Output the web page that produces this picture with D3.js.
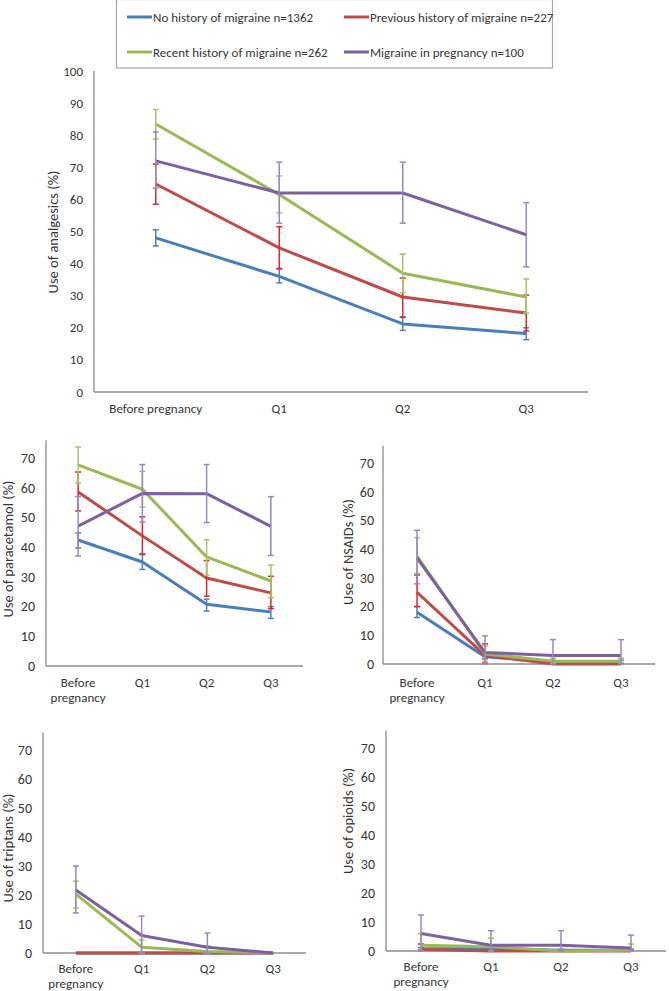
<!DOCTYPE html>
<html><head><meta charset="utf-8">
<script src="https://cdn.jsdelivr.net/npm/d3@7"></script>
<style>
body{margin:0;background:#fff}
text{font-family:Carlito,Lato,"Liberation Sans",sans-serif;fill:#363636}
</style>
</head><body>
<svg id="c" width="669" height="991"></svg>
<script>
// ---------- DATA ----------
const categories = ["Before pregnancy", "Q1", "Q2", "Q3"];
const seriesNames = [
  "No history of migraine n=1362",
  "Previous history of migraine n=227",
  "Recent history of migraine n=262",
  "Migraine in pregnancy n=100"
];
const yTicksTop = [0, 10, 20, 30, 40, 50, 60, 70, 80, 90, 100];
const yTicksSmall = [0, 10, 20, 30, 40, 50, 60, 70];

// Analgesics (overall) – series order: none, previous, recent, pregnancy
const analgesicsValues = [[48, 36, 21.2, 18.2], [64.8, 44.9, 29.6, 24.6], [83.5, 61.5, 37, 29.6], [72, 62, 62, 49]];
const analgesicsLow    = [[45.5, 34, 19.2, 16.3], [58.5, 38.5, 23.4, 19], [78.8, 55.8, 31, 24.6], [63.5, 52.6, 52.6, 39]];
const analgesicsHigh   = [[50.5, 38.3, 23.2, 20], [71, 51.5, 35.5, 30.2], [88, 67.3, 43, 35.2], [81, 71.6, 71.6, 59]];

// Paracetamol
const paracetamolValues = [[42.4, 35, 20.8, 18.2], [58.6, 43.8, 29.6, 24.6], [67.7, 59.5, 36.7, 28.6], [47.1, 58.1, 58, 47]];
const paracetamolLow    = [[39.7, 32.5, 18.5, 16], [52.2, 37.7, 23.5, 19.3], [61.6, 53.5, 30.5, 23], [37, 48.5, 48.3, 37.2]];
const paracetamolHigh   = [[44.8, 37.5, 22.5, 20], [65.3, 50.2, 35.5, 30.2], [73.7, 65.5, 42.5, 34], [57, 67.8, 67.8, 57]];

// NSAIDs
const nsaidValues = [[18, 2.5, 0.7, 0.7], [25, 3, 0, 0], [37.6, 3.5, 1, 1], [37, 4, 3, 3]];
const nsaidLow    = [[16.2, 1.8, 0.3, 0.3], [20, 0.3, 0, 0], [31.5, 1, 0.3, 0.3], [27.9, 0, 0, 0]];
const nsaidHigh   = [[20, 3.3, 1.3, 1.3], [31, 7, 0, 0], [44, 6.3, 2, 2], [46.6, 9.8, 8.5, 8.5]];

// Triptans
const triptanValues = [[0, 0, 0, 0], [0, 0, 0, 0], [20.3, 2, 0.5, 0], [21.7, 6, 2, 0]];
const triptanLow    = [[0, 0, 0, 0], [0, 0, 0, 0], [15.5, 0, 0, 0], [13.8, 0, 0, 0]];
const triptanHigh   = [[0, 0, 0, 0], [0, 0, 0, 0], [24.8, 4.5, 2.5, 0], [30, 12.7, 6.9, 0]];

// Opioids
const opioidValues = [[0.8, 0.8, 0.3, 0.3], [0.5, 0, 0, 0], [2, 1.5, 0, 0.3], [6, 2, 2, 1]];
const opioidLow    = [[0.4, 0.4, 0, 0], [0, 0, 0, 0], [0, 0, 0, 0], [0, 0, 0, 0]];
const opioidHigh   = [[1.2, 1.2, 0.6, 0.6], [2.4, 0, 0, 0], [6, 4.4, 0, 2.4], [12.4, 7, 7, 5.5]];

// ---------- STYLE ----------
const lineColors = ["#4A7EBB", "#BE4B48", "#98B954", "#7D60A0"];
const errColors  = ["#4F81BD", "#E3262A", "#A5C763", "#9A86C2"];
const axisColor = "#8C8C8C";

const svg = d3.select("#c");

// ---------- LEGEND ----------
const lg = svg.append("g");
lg.append("rect").attr("x", 116.5).attr("y", -0.5).attr("width", 436).attr("height", 68.5)
  .attr("fill", "#fff").attr("stroke", "#A6A6A6").attr("stroke-width", 1.2);
const legPos = [[127, 17], [344, 17], [127, 52], [344, 52]];
seriesNames.forEach((n, i) => {
  const [lx, ly] = legPos[i];
  lg.append("line").attr("x1", lx).attr("x2", lx + 25).attr("y1", ly).attr("y2", ly)
    .attr("stroke", lineColors[i]).attr("stroke-width", 3);
  lg.append("text").attr("x", lx + 26).attr("y", ly).attr("dy", "0.35em")
    .style("font-size", "13px").text(n);
});

// ---------- PANELS ----------
const panels = [
  {label: "Use of analgesics (%)", v: analgesicsValues, lo: analgesicsLow, hi: analgesicsHigh,
   x0: 94, x1: 588, y0: 392, max: 100, ppu: 3.21, ticks: yTicksTop, tickRight: 83,
   labX: 53, labY: 232, xLabY: 408, wrap: false, fs: 13, tfs: 13},
  {label: "Use of paracetamol (%)", v: paracetamolValues, lo: paracetamolLow, hi: paracetamolHigh,
   x0: 46, x1: 303, y0: 666, max: 76, ppu: 2.971, ticks: yTicksSmall, tickRight: 35,
   labX: 8, labY: 549, xLabY: 682, wrap: true, fs: 13, tfs: 14},
  {label: "Use of NSAIDs (%)", v: nsaidValues, lo: nsaidLow, hi: nsaidHigh,
   x0: 383, x1: 655, y0: 664, max: 76, ppu: 2.871, ticks: yTicksSmall, tickRight: 374,
   labX: 348, labY: 552, xLabY: 682, wrap: true, fs: 13, tfs: 14},
  {label: "Use of triptans (%)", v: triptanValues, lo: triptanLow, hi: triptanHigh,
   x0: 43, x1: 306, y0: 953, max: 76, ppu: 2.9, ticks: yTicksSmall, tickRight: 32,
   labX: 8, labY: 848, xLabY: 968, wrap: true, fs: 13, tfs: 14},
  {label: "Use of opioids (%)", v: opioidValues, lo: opioidLow, hi: opioidHigh,
   x0: 386, x1: 666, y0: 951, max: 76, ppu: 2.9, ticks: yTicksSmall, tickRight: 375,
   labX: 348, labY: 821, xLabY: 966, wrap: true, fs: 13, tfs: 14}
];

panels.forEach(p => {
  const g = svg.append("g");
  const x = d3.scaleBand().domain(categories).range([p.x0, p.x1]);
  const cx = c => x(c) + x.bandwidth() / 2;
  const y = d3.scaleLinear().domain([0, p.max]).range([p.y0, p.y0 - p.max * p.ppu]);

  // axes lines
  g.append("line").attr("x1", p.x0).attr("x2", p.x0).attr("y1", p.y0).attr("y2", y(p.max))
    .attr("stroke", axisColor).attr("stroke-width", 1.3);
  g.append("line").attr("x1", p.x0).attr("x2", p.x1).attr("y1", p.y0).attr("y2", p.y0)
    .attr("stroke", axisColor).attr("stroke-width", 1.3);

  // y tick labels
  g.selectAll(".yt").data(p.ticks).enter().append("text")
    .attr("x", p.tickRight).attr("y", d => y(d)).attr("dy", "0.35em")
    .attr("text-anchor", "end").style("font-size", p.tfs + "px").text(d => d);

  // x labels
  categories.forEach(c => {
    const t = g.append("text").attr("x", cx(c)).attr("y", p.xLabY).attr("dy", "0.35em")
      .attr("text-anchor", "middle").style("font-size", p.fs + "px");
    if (p.wrap && c.indexOf(" ") > 0) {
      const parts = c.split(" ");
      t.text(parts[0]);
      g.append("text").attr("x", cx(c)).attr("y", p.xLabY + 15.5).attr("dy", "0.35em")
        .attr("text-anchor", "middle").style("font-size", p.fs + "px").text(parts[1]);
    } else t.text(c);
  });

  // y label
  g.append("text").attr("transform", `translate(${p.labX},${p.labY}) rotate(-90)`)
    .attr("dy", "0.35em").attr("text-anchor", "middle").style("font-size", "14.5px").text(p.label);

  // series
  const line = d3.line().x((d, i) => cx(categories[i])).y(d => y(d));
  p.v.forEach((vals, s) => {
    g.append("path").attr("d", line(vals)).attr("fill", "none")
      .attr("stroke", lineColors[s]).attr("stroke-width", 3).attr("stroke-linejoin", "round");
    vals.forEach((val, i) => {
      const lo = p.lo[s][i], hi = p.hi[s][i];
      if (hi - lo <= 0) return;
      const xx = cx(categories[i]);
      const eg = g.append("g").attr("stroke", errColors[s]).attr("stroke-width", 1.5);
      eg.append("line").attr("x1", xx).attr("x2", xx).attr("y1", y(lo)).attr("y2", y(hi));
      eg.append("line").attr("x1", xx - 3).attr("x2", xx + 3).attr("y1", y(lo)).attr("y2", y(lo));
      eg.append("line").attr("x1", xx - 3).attr("x2", xx + 3).attr("y1", y(hi)).attr("y2", y(hi));
    });
  });
});
</script>
</body></html>
